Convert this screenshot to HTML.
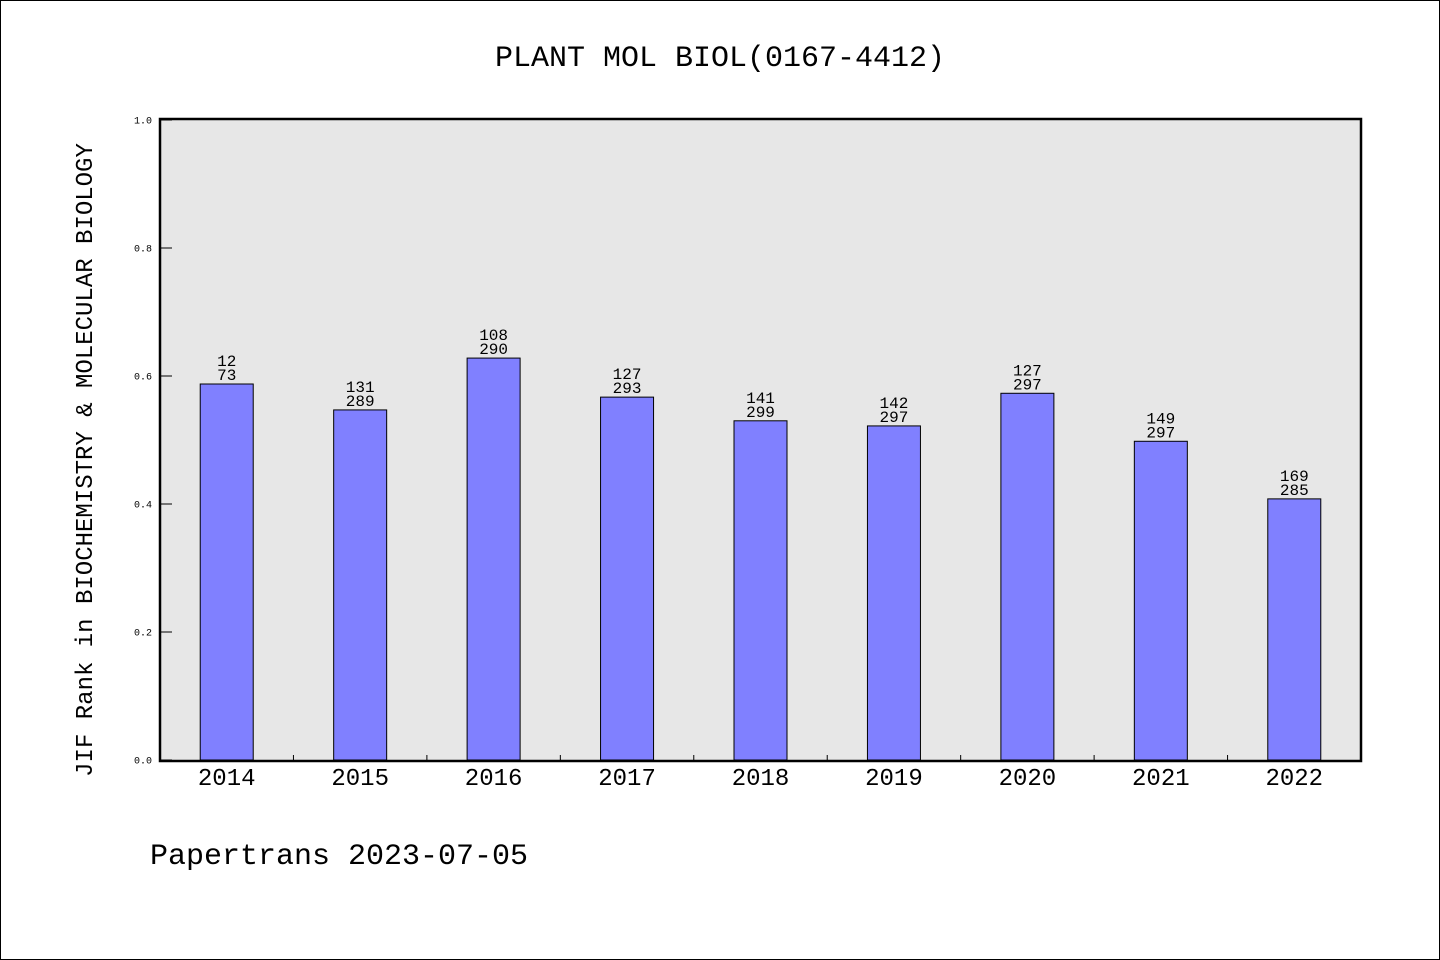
<!DOCTYPE html>
<html><head><meta charset="utf-8"><style>
html,body{margin:0;padding:0;background:#fff}
svg{display:block}
text{font-family:"Liberation Mono","DejaVu Sans Mono",monospace;fill:#000}
</style></head><body>
<svg id="chart" width="1440" height="960" xmlns="http://www.w3.org/2000/svg">
<rect x="0.5" y="0.5" width="1439" height="959" fill="#fff" stroke="#000"/>
<text x="720" y="66" text-anchor="middle" font-size="30">PLANT MOL BIOL(0167-4412)</text>
<rect x="160" y="119" width="1201" height="642" fill="#e7e7e7"/>
<g id="bars"></g>
<g id="ticks"></g>
<rect x="160" y="119" width="1201" height="642" fill="none" stroke="#000" stroke-width="2.5"/>
<text transform="translate(92,460) rotate(-90)" text-anchor="middle" font-size="24">JIF Rank in BIOCHEMISTRY &amp; MOLECULAR BIOLOGY</text>
<text x="150" y="864" font-size="30">Papertrans 2023-07-05</text>
</svg>
<script>
const categories=["2014","2015","2016","2017","2018","2019","2020","2021","2022"];
const values=[0.5875,0.547,0.628,0.567,0.530,0.522,0.573,0.498,0.408];
const ranks=["12","131","108","127","141","142","127","149","169"];
const totals=["73","289","290","293","299","297","297","297","285"];
const yTicks=[0,0.2,0.4,0.6,0.8,1.0];
const NS="http://www.w3.org/2000/svg";
const x0=160,x1=1361,y0=760,y1=120;
const band=(x1-x0)/categories.length;
const xc=i=>x0+band*(i+0.5);
const ys=v=>y0-(y0-y1)*v;
const bars=document.getElementById('bars'),ticks=document.getElementById('ticks');
function mk(tag,attrs,parent){const e=document.createElementNS(NS,tag);for(const k in attrs)e.setAttribute(k,attrs[k]);parent.appendChild(e);return e;}
categories.forEach((c,i)=>{
  const y=ys(values[i]);
  const r=mk('rect',{x:xc(i)-26.5,y:y,width:53,height:y0-y,fill:'#8080ff',stroke:'#000','stroke-width':1},bars);
  
  
  const t1=mk('text',{x:xc(i),y:y-18,'text-anchor':'middle','font-size':16},bars);
  t1.textContent=ranks[i];
  
  
  const t2=mk('text',{x:xc(i),y:y-4,'text-anchor':'middle','font-size':16},bars);
  t2.textContent=totals[i];
  
  
  const xl=mk('text',{x:xc(i),y:785,'text-anchor':'middle','font-size':24},ticks);
  xl.textContent=c;
  
  
  if(i>0){const tk=mk('line',{x1:x0+band*i,x2:x0+band*i,y1:y0,y2:y0-5,stroke:'#000'},ticks);
  
  }
});
yTicks.forEach(v=>{
  const y=ys(v);
  const l=mk('line',{x1:x0,x2:x0+12,y1:y,y2:y,stroke:'#000'},ticks);
  
  
  const t=mk('text',{x:152,y:y+3.5,'text-anchor':'end','font-size':10},ticks);
  t.textContent=v.toFixed(1);
  
  
});
</script>
</body></html>
